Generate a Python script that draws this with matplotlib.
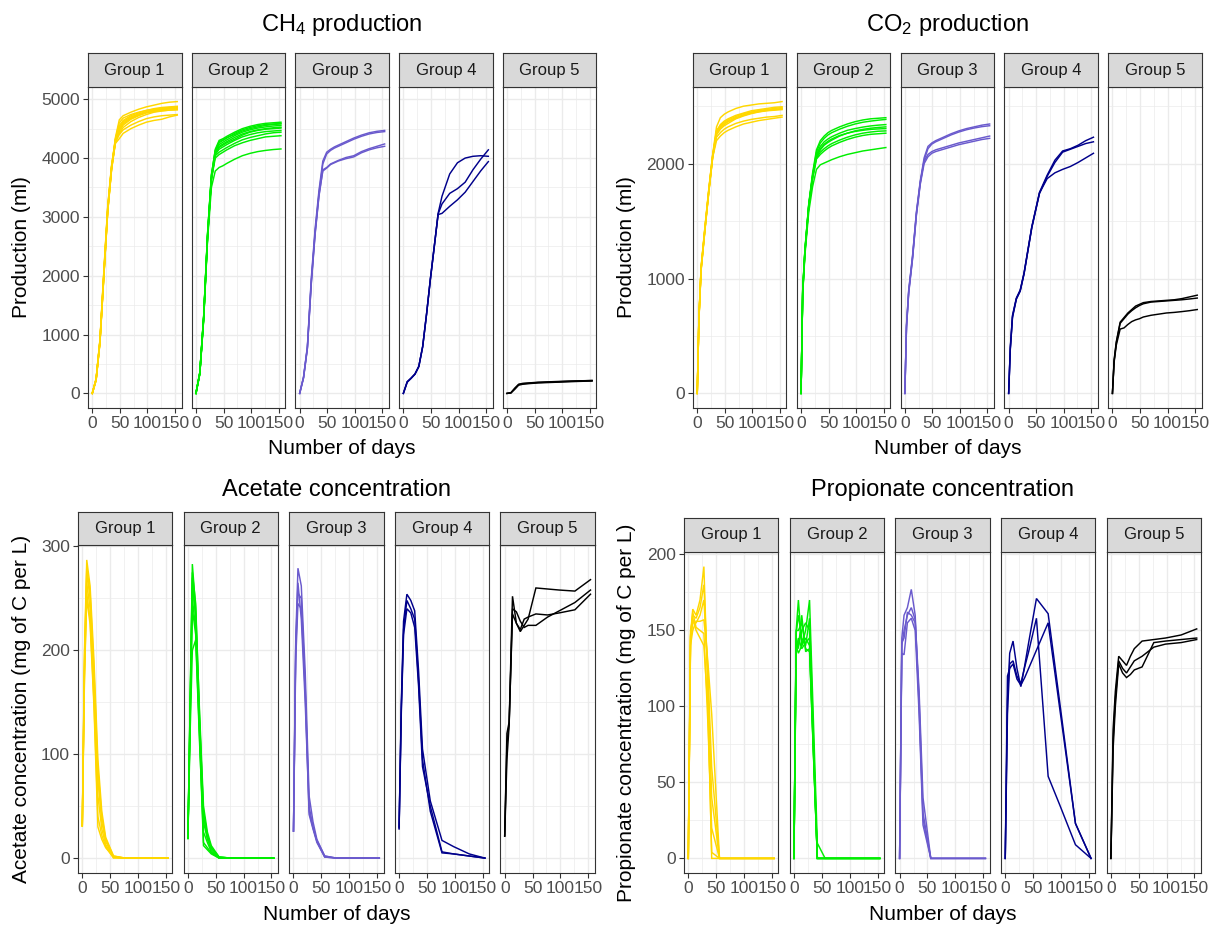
import matplotlib
matplotlib.use("Agg")
import matplotlib.pyplot as plt
from matplotlib.ticker import FixedLocator

plt.rcParams['font.family'] = ['Liberation Sans', 'DejaVu Sans']
plt.rcParams['mathtext.fontset'] = 'custom'
plt.rcParams['mathtext.rm'] = 'Liberation Sans'
plt.rcParams['mathtext.default'] = 'regular'

# ---------------- data ----------------
groups = ["Group 1", "Group 2", "Group 3", "Group 4", "Group 5"]
group_colors = ["#FFD700", "#00EE00", "#6A5ACD", "#00008B", "#000000"]

days_ch4 = [0, 7, 14, 21, 28, 35, 42, 49, 56, 63, 70, 84, 98, 112, 126, 140, 154]
days_co2 = [0, 3, 7, 14, 21, 28, 35, 42, 49, 56, 70, 84, 98, 112, 126, 140, 154]
days_vfa = [0, 4, 8, 14, 21, 28, 35, 42, 56, 77, 98, 126, 154]

ch4_g1 = [
    [0, 240, 900, 2050, 3150, 3850, 4350, 4650, 4720, 4750, 4780, 4830, 4870, 4900, 4930, 4950, 4960],
    [0, 230, 880, 2000, 3100, 3820, 4320, 4550, 4640, 4680, 4720, 4770, 4810, 4840, 4860, 4870, 4880],
    [0, 250, 920, 2080, 3180, 3880, 4300, 4500, 4600, 4640, 4680, 4740, 4780, 4810, 4830, 4850, 4860],
    [0, 220, 860, 1980, 3080, 3800, 4280, 4450, 4560, 4610, 4660, 4720, 4770, 4800, 4820, 4835, 4840],
    [0, 240, 890, 2020, 3120, 3840, 4310, 4480, 4580, 4630, 4670, 4730, 4770, 4790, 4805, 4815, 4820],
    [0, 230, 870, 1990, 3090, 3810, 4260, 4400, 4480, 4520, 4560, 4620, 4670, 4700, 4720, 4730, 4740],
    [0, 250, 910, 2060, 3160, 3860, 4250, 4330, 4420, 4460, 4500, 4560, 4610, 4640, 4660, 4700, 4730],
    [0, 235, 885, 2010, 3110, 3830, 4300, 4520, 4620, 4660, 4700, 4750, 4790, 4820, 4840, 4850, 4855],
    [0, 245, 895, 2030, 3130, 3850, 4330, 4600, 4680, 4710, 4740, 4780, 4810, 4830, 4845, 4860, 4870],
    [0, 225, 875, 1995, 3095, 3815, 4290, 4420, 4520, 4570, 4620, 4690, 4740, 4780, 4800, 4815, 4825],
]
ch4_g2 = [
    [0, 350, 1300, 2700, 3700, 4150, 4300, 4330, 4370, 4405, 4440, 4500, 4540, 4570, 4590, 4600, 4610],
    [0, 340, 1280, 2650, 3650, 4100, 4260, 4300, 4340, 4380, 4420, 4480, 4520, 4550, 4570, 4580, 4590],
    [0, 360, 1320, 2720, 3720, 4130, 4230, 4270, 4310, 4345, 4380, 4440, 4480, 4510, 4530, 4545, 4555],
    [0, 330, 1260, 2630, 3630, 4080, 4200, 4240, 4280, 4315, 4350, 4410, 4450, 4480, 4500, 4515, 4525],
    [0, 350, 1300, 2680, 3680, 4060, 4150, 4190, 4230, 4265, 4300, 4360, 4400, 4430, 4450, 4460, 4470],
    [0, 340, 1290, 2660, 3660, 4040, 4100, 4140, 4180, 4215, 4250, 4310, 4350, 4380, 4410, 4430, 4440],
    [0, 345, 1295, 2670, 3640, 4000, 4060, 4100, 4140, 4175, 4210, 4260, 4300, 4330, 4360, 4370, 4380],
    [0, 330, 1250, 2600, 3500, 3780, 3840, 3870, 3910, 3945, 3980, 4040, 4080, 4110, 4130, 4145, 4155],
    [0, 355, 1310, 2700, 3700, 4120, 4280, 4310, 4350, 4375, 4400, 4460, 4500, 4530, 4555, 4570, 4580],
    [0, 335, 1270, 2640, 3640, 4070, 4180, 4220, 4260, 4290, 4320, 4390, 4440, 4470, 4490, 4500, 4510],
]
ch4_g3 = [
    [0, 280, 800, 1950, 2800, 3450, 3950, 4100, 4150, 4190, 4220, 4280, 4340, 4390, 4430, 4455, 4470],
    [0, 270, 780, 1900, 2750, 3400, 3900, 4070, 4130, 4170, 4200, 4260, 4320, 4370, 4410, 4435, 4450],
    [0, 260, 760, 1850, 2700, 3350, 3800, 3840, 3900, 3930, 3960, 4010, 4040, 4110, 4160, 4200, 4240],
    [0, 265, 770, 1870, 2720, 3370, 3780, 3830, 3890, 3920, 3950, 3990, 4020, 4090, 4140, 4175, 4200],
]
ch4_g4 = [
    [0, 200, 260, 330, 460, 800, 1350, 1950, 2500, 3060, 3350, 3730, 3920, 4000, 4030, 4040, 4030],
    [0, 190, 255, 325, 455, 790, 1340, 1940, 2490, 3050, 3220, 3400, 3480, 3590, 3800, 3980, 4140],
    [0, 195, 258, 328, 458, 795, 1345, 1945, 2495, 3040, 3060, 3180, 3290, 3420, 3600, 3780, 3940],
]
ch4_g5 = [
    [0, 10, 80, 150, 165, 170, 175, 180, 185, 188, 190, 195, 200, 205, 210, 215, 220],
    [0, 8, 70, 140, 155, 162, 168, 173, 178, 180, 183, 188, 193, 198, 203, 207, 210],
    [0, 12, 90, 155, 170, 175, 180, 185, 190, 192, 195, 200, 205, 210, 213, 216, 218],
]

co2_g1 = [
    [0, 650, 1100, 1450, 1780, 2080, 2320, 2400, 2430, 2450, 2480, 2500, 2510, 2520, 2525, 2530, 2540],
    [0, 640, 1080, 1430, 1760, 2060, 2280, 2340, 2370, 2390, 2420, 2440, 2460, 2470, 2480, 2490, 2495],
    [0, 660, 1090, 1440, 1770, 2070, 2270, 2320, 2350, 2370, 2400, 2425, 2445, 2455, 2465, 2470, 2480],
    [0, 630, 1070, 1420, 1750, 2050, 2250, 2300, 2330, 2350, 2390, 2415, 2435, 2450, 2460, 2465, 2470],
    [0, 650, 1085, 1435, 1765, 2065, 2230, 2270, 2300, 2320, 2350, 2370, 2385, 2395, 2405, 2410, 2420],
    [0, 640, 1075, 1425, 1755, 2055, 2200, 2240, 2270, 2290, 2320, 2345, 2360, 2375, 2385, 2395, 2405],
    [0, 655, 1095, 1445, 1775, 2075, 2290, 2330, 2360, 2380, 2410, 2435, 2450, 2462, 2472, 2480, 2488],
    [0, 645, 1080, 1430, 1760, 2060, 2260, 2310, 2340, 2365, 2395, 2420, 2440, 2452, 2462, 2470, 2476],
]
co2_g2 = [
    [0, 900, 1250, 1650, 1920, 2120, 2200, 2240, 2270, 2290, 2320, 2345, 2365, 2380, 2390, 2395, 2400],
    [0, 880, 1230, 1630, 1900, 2100, 2180, 2220, 2250, 2270, 2300, 2325, 2345, 2360, 2370, 2378, 2385],
    [0, 890, 1240, 1640, 1890, 2080, 2150, 2190, 2215, 2235, 2265, 2290, 2305, 2318, 2328, 2335, 2340],
    [0, 870, 1220, 1620, 1880, 2060, 2120, 2160, 2185, 2205, 2240, 2265, 2285, 2298, 2308, 2315, 2320],
    [0, 900, 1245, 1645, 1895, 2070, 2130, 2170, 2195, 2215, 2245, 2265, 2280, 2290, 2298, 2302, 2305],
    [0, 875, 1225, 1625, 1875, 2050, 2100, 2130, 2155, 2175, 2205, 2230, 2250, 2265, 2275, 2282, 2285],
    [0, 885, 1235, 1635, 1870, 2040, 2080, 2110, 2135, 2155, 2185, 2210, 2230, 2245, 2255, 2260, 2265],
    [0, 860, 1200, 1580, 1800, 1950, 1990, 2005, 2020, 2035, 2060, 2080, 2095, 2110, 2120, 2130, 2140],
]
co2_g3 = [
    [0, 600, 900, 1200, 1580, 1850, 2050, 2150, 2180, 2200, 2230, 2260, 2285, 2305, 2320, 2335, 2345],
    [0, 580, 880, 1180, 1560, 1830, 2030, 2130, 2170, 2190, 2220, 2250, 2275, 2295, 2310, 2322, 2330],
    [0, 590, 890, 1190, 1570, 1840, 2020, 2080, 2105, 2120, 2140, 2160, 2180, 2195, 2210, 2225, 2240],
    [0, 570, 870, 1170, 1550, 1820, 2000, 2060, 2090, 2105, 2125, 2145, 2165, 2180, 2195, 2210, 2220],
]
co2_g4 = [
    [0, 400, 680, 830, 900, 1050, 1250, 1450, 1600, 1750, 1900, 2030, 2110, 2130, 2160, 2200, 2230],
    [0, 380, 660, 820, 890, 1040, 1240, 1440, 1590, 1740, 1890, 2010, 2100, 2125, 2150, 2175, 2190],
    [0, 390, 670, 825, 895, 1045, 1245, 1445, 1595, 1745, 1870, 1920, 1950, 1975, 2010, 2050, 2090],
]
co2_g5 = [
    [0, 290, 450, 620, 660, 700, 730, 760, 775, 790, 800, 805, 810, 815, 825, 840, 855],
    [0, 280, 440, 610, 650, 690, 720, 745, 765, 780, 795, 800, 805, 810, 815, 822, 830],
    [0, 270, 420, 560, 570, 600, 625, 640, 650, 665, 680, 690, 700, 705, 712, 720, 730],
]

acetate_g1 = [
    [31, 200, 287, 262, 190, 95, 45, 20, 2, 0, 0, 0, 0],
    [31, 190, 275, 250, 170, 75, 35, 16, 1, 0, 0, 0, 0],
    [31, 185, 265, 240, 160, 60, 28, 13, 1, 0, 0, 0, 0],
    [31, 180, 255, 230, 150, 40, 22, 11, 0, 0, 0, 0, 0],
    [31, 195, 280, 255, 180, 85, 40, 18, 2, 0, 0, 0, 0],
    [31, 175, 250, 225, 145, 30, 18, 10, 1, 0, 0, 0, 0],
]
acetate_g2 = [
    [19, 150, 283, 240, 140, 50, 25, 12, 1, 0, 0, 0, 0],
    [19, 140, 270, 230, 130, 45, 22, 10, 1, 0, 0, 0, 0],
    [19, 130, 250, 220, 120, 35, 18, 8, 0, 0, 0, 0, 0],
    [19, 120, 200, 210, 110, 25, 15, 6, 0, 0, 0, 0, 0],
    [19, 145, 260, 235, 125, 15, 10, 5, 0, 0, 0, 0, 0],
    [19, 135, 240, 215, 115, 12, 8, 4, 0, 0, 0, 0, 0],
    [19, 150, 275, 245, 135, 40, 20, 10, 1, 0, 0, 0, 0],
]
acetate_g3 = [
    [26, 210, 279, 262, 180, 60, 35, 18, 2, 0, 0, 0, 0],
    [26, 200, 255, 250, 165, 50, 30, 16, 1, 0, 0, 0, 0],
    [26, 190, 245, 240, 160, 42, 28, 15, 1, 0, 0, 0, 0],
    [26, 205, 265, 230, 150, 45, 29, 17, 2, 0, 0, 0, 0],
]
acetate_g4 = [
    [29, 150, 228, 254, 248, 238, 180, 105, 55, 17, 11, 4, 0],
    [30, 145, 220, 248, 240, 230, 170, 95, 45, 5, 4, 2, 0],
    [28, 140, 215, 240, 236, 222, 165, 88, 50, 6, 4, 2, 0],
]
acetate_g5 = [
    [21, 120, 131, 252, 226, 218, 224, 230, 260, 259, 258, 257, 268],
    [21, 95, 128, 240, 237, 228, 222, 224, 224, 232, 238, 246, 258],
    [22, 110, 130, 235, 226, 220, 230, 232, 235, 234, 236, 239, 254],
]

propionate_g1 = [
    [0, 147, 164, 160, 170, 192, 110, 0, 0, 0, 0, 0, 0],
    [0, 145, 160, 158, 165, 180, 120, 40, 0, 0, 0, 0, 0],
    [0, 140, 150, 156, 156, 157, 130, 95, 0, 0, 0, 0, 0],
    [0, 150, 158, 150, 145, 140, 100, 4, 0, 0, 0, 0, 0],
    [0, 143, 155, 155, 160, 170, 125, 60, 0, 0, 0, 0, 0],
    [0, 146, 162, 152, 150, 148, 90, 20, 0, 0, 0, 0, 0],
]
propionate_g2 = [
    [0, 150, 170, 140, 150, 170, 90, 10, 0, 0, 0, 0, 0],
    [0, 148, 160, 145, 140, 158, 80, 0, 0, 0, 0, 0, 0],
    [0, 145, 140, 150, 155, 150, 75, 0, 0, 0, 0, 0, 0],
    [0, 140, 135, 140, 145, 140, 70, 0, 0, 0, 0, 0, 0],
    [0, 150, 150, 155, 138, 136, 68, 0, 0, 0, 0, 0, 0],
    [0, 135, 145, 138, 142, 145, 72, 0, 0, 0, 0, 0, 0],
    [0, 142, 138, 160, 136, 138, 69, 0, 0, 0, 0, 0, 0],
]
propionate_g3 = [
    [0, 145, 160, 165, 177, 160, 100, 26, 0, 0, 0, 0, 0],
    [0, 140, 150, 160, 165, 157, 110, 40, 0, 0, 0, 0, 0],
    [0, 135, 134, 155, 158, 150, 95, 22, 0, 0, 0, 0, 0],
    [0, 142, 145, 162, 160, 155, 105, 30, 0, 0, 0, 0, 0],
]
propionate_g4 = [
    [0, 104, 135, 143, 125, 113, 127, 142, 171, 161, 102, 23, 0],
    [0, 95, 128, 130, 120, 115, 126, 136, 158, 54, 35, 9, 0],
    [0, 120, 125, 128, 118, 114, 119, 125, 137, 155, 98, 23, 0],
]
propionate_g5 = [
    [0, 85, 110, 133, 130, 127, 133, 138, 143, 144, 145, 147, 151],
    [0, 72, 100, 128, 122, 119, 121, 124, 126, 142, 143, 144, 145],
    [0, 78, 105, 130, 125, 122, 126, 130, 133, 139, 141, 142, 144],
]

# ---------------- layout ----------------
W, H = 1210, 927
fig = plt.figure(figsize=(W / 100, H / 100), dpi=100)
fig.patch.set_facecolor("white")

GRID_MAJ = "#EBEBEB"
BORDER = "#333333"
TICK_TXT = "#4D4D4D"


def fx(px):
    return px / W


def fy(py):
    return 1 - py / H


def draw_panel(series, days, left, width, step, strip_top, plot_top, bottom,
               yticks, yminor, title, ylabel, title_y, ylabel_x, xlabel_y):
    allv = [v for grp in series for line in grp for v in line]
    ymin, ymax = min(allv), max(allv)
    ypad = (ymax - ymin) * 0.05
    xpad = (max(days) - min(days)) * 0.05
    for i, grp in enumerate(series):
        l = left + i * step
        ax = fig.add_axes([fx(l), fy(bottom), width / W, (bottom - plot_top) / H])
        ax.set_facecolor("white")
        ax.set_xlim(min(days) - xpad, max(days) + xpad)
        ax.set_ylim(ymin - ypad, ymax + ypad)
        ax.xaxis.set_major_locator(FixedLocator([0, 50, 100, 150]))
        ax.xaxis.set_minor_locator(FixedLocator([25, 75, 125]))
        ax.yaxis.set_major_locator(FixedLocator(yticks))
        ax.yaxis.set_minor_locator(FixedLocator(yminor))
        ax.grid(which="major", color=GRID_MAJ, linewidth=1.0, zorder=0)
        ax.grid(which="minor", color=GRID_MAJ, linewidth=0.5, zorder=0)
        ax.set_axisbelow(True)
        for line in grp:
            ax.plot(days, line, color=group_colors[i], linewidth=1.05,
                    solid_joinstyle="miter", zorder=3)
        for s in ax.spines.values():
            s.set_color(BORDER)
            s.set_linewidth(0.8)
        ax.tick_params(which="major", length=3.3, width=0.8, color=BORDER,
                       labelsize=12.5, labelcolor=TICK_TXT, pad=2.5)
        ax.tick_params(which="minor", length=0)
        ax.set_xticklabels(["0", "50", "100", "150"])
        if i == 0:
            ax.set_yticklabels([str(t) for t in yticks])
        else:
            ax.tick_params(axis="y", which="both", left=False, labelleft=False)
        # strip
        sax = fig.add_axes([fx(l), fy(plot_top), width / W, (plot_top - strip_top) / H])
        sax.set_facecolor("#D9D9D9")
        sax.set_xticks([])
        sax.set_yticks([])
        for s in sax.spines.values():
            s.set_color(BORDER)
            s.set_linewidth(0.8)
        sax.text(0.5, 0.5, groups[i], ha="center", va="center",
                 fontsize=12, color="#1A1A1A", transform=sax.transAxes)
    right = left + 4 * step + width
    cx = (left + right) / 2
    fig.text(fx(cx), fy(title_y), title, ha="center", va="center", fontsize=17)
    fig.text(fx(ylabel_x), fy((plot_top + bottom) / 2), ylabel, rotation=90,
             ha="center", va="center", fontsize=15)
    fig.text(fx(cx), fy(xlabel_y), "Number of days", ha="center", va="center",
             fontsize=15)


draw_panel([ch4_g1, ch4_g2, ch4_g3, ch4_g4, ch4_g5], days_ch4,
           88, 93.5, 103.7, 53, 87, 408,
           [0, 1000, 2000, 3000, 4000, 5000], [500, 1500, 2500, 3500, 4500],
           r"CH$_{4}$ production", "Production (ml)", 25, 22, 449)

draw_panel([co2_g1, co2_g2, co2_g3, co2_g4, co2_g5], days_co2,
           693, 93.3, 103.8, 53, 87, 408,
           [0, 1000, 2000], [500, 1500, 2500],
           r"CO$_{2}$ production", "Production (ml)", 25, 627, 449)

draw_panel([acetate_g1, acetate_g2, acetate_g3, acetate_g4, acetate_g5], days_vfa,
           78, 94.4, 105.6, 512, 545, 873,
           [0, 100, 200, 300], [50, 150, 250],
           "Acetate concentration", "Acetate concentration (mg of C per L)", 490, 22, 914)

draw_panel([propionate_g1, propionate_g2, propionate_g3, propionate_g4, propionate_g5], days_vfa,
           684, 94.4, 105.65, 518, 552, 873,
           [0, 50, 100, 150, 200], [25, 75, 125, 175],
           "Propionate concentration", "Propionate concentration (mg of C per L)", 490, 627, 914)

fig.savefig("out.png", dpi=100, facecolor="white")
